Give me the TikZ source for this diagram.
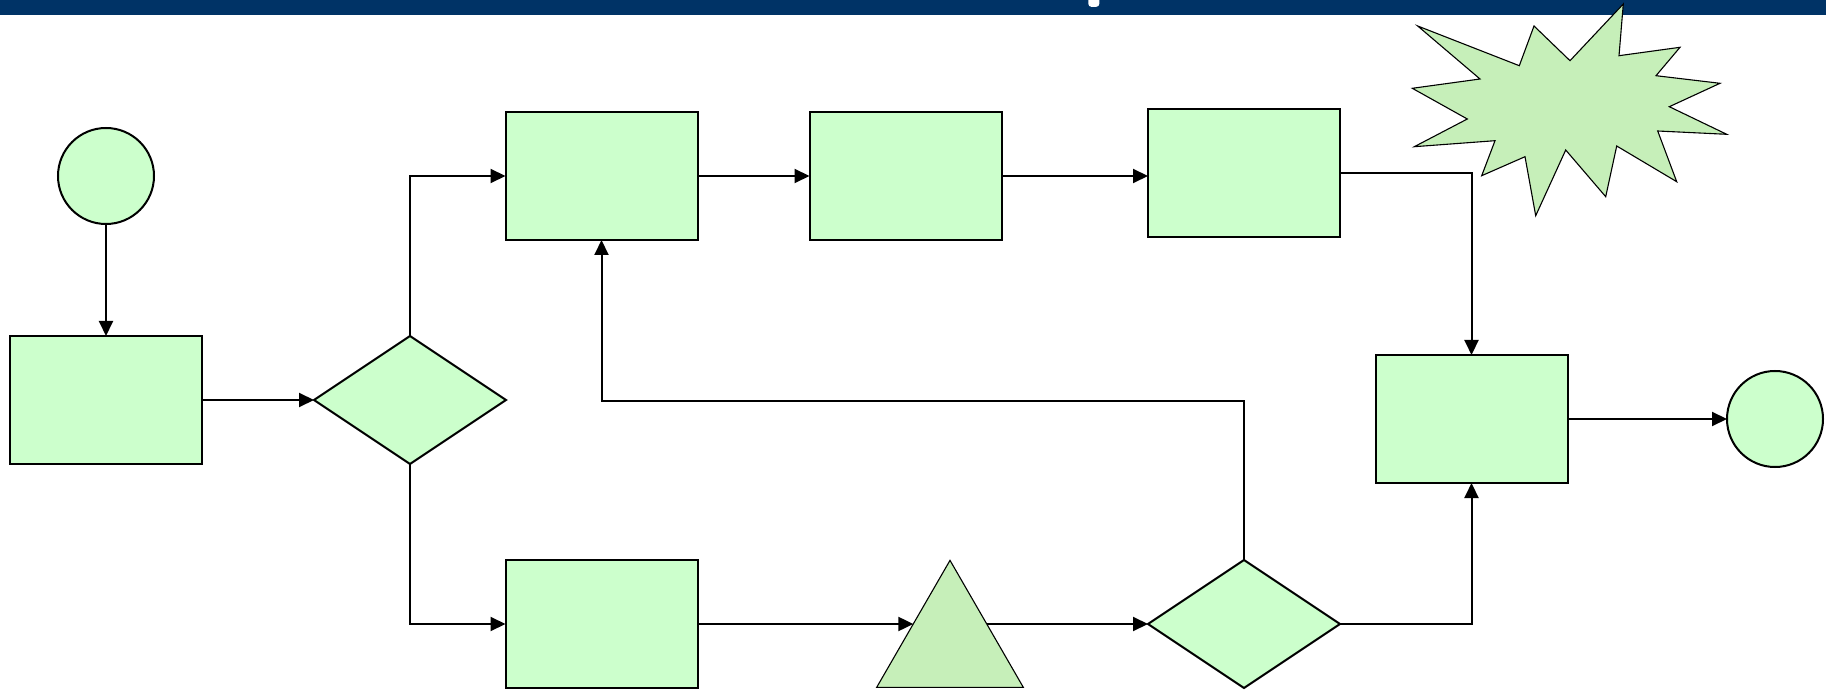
\documentclass[tikz,border=0pt]{standalone}
\usetikzlibrary{shapes.geometric,arrows.meta}
\definecolor{barblue}{HTML}{003366}
\definecolor{boxgreen}{HTML}{CCFFCC}
\definecolor{burstgreen}{HTML}{C6EFB9}
\tikzset{
  box/.style={draw=black, line width=2pt, fill=boxgreen, rectangle,
    minimum width=192pt, minimum height=128pt, inner sep=0pt, outer sep=0pt},
  term/.style={draw=black, line width=2pt, fill=boxgreen, circle,
    minimum size=96pt, inner sep=0pt, outer sep=0pt},
  decision/.style={draw=black, line width=2pt, fill=boxgreen, diamond,
    minimum width=192pt, minimum height=128pt, inner sep=0pt, outer sep=0pt},
  merge/.style={draw=black, line width=1.1pt, fill=burstgreen,
    regular polygon, regular polygon sides=3, minimum size=169.3pt,
    inner sep=0pt, outer sep=0pt},
  flow/.style={draw=black, line width=2pt,
    -{Triangle[length=15pt,width=14pt]}}
}
\begin{document}
\begin{tikzpicture}[x=1pt,y=-1pt]
\useasboundingbox (0,0) rectangle (1826,692);

% header bar
\fill[barblue] (0,0) rectangle (1826,15.5);
\fill[white, rounded corners=3pt] (1088.3,-4) rectangle (1099.3,6.8);

% nodes
\node[term] (start) at (106,176) {};
\node[box] (r1) at (106,400) {};
\node[decision] (d1) at (410,400) {};
\node[box] (A) at (601.5,176) {};
\node[box] (B) at (905.5,176) {};
\node[box] (C) at (1244,173.5) {};
\node[box] (D) at (601.5,624) {};
\node[merge] (tri) at (950,645) {};
\node[decision] (d2) at (1244,624) {};
\node[box] (E) at (1471.5,419) {};
\node[term] (stop) at (1775,419) {};

% starburst
\draw[line width=1.1pt, fill=burstgreen, line join=miter]
  (1417.7,26) -- (1480,79) -- (1412.3,88.3) -- (1467.3,119) -- (1414.3,146.7)
  -- (1495,140.7) -- (1481.7,175.7) -- (1525,156.7) -- (1535.7,215.7)
  -- (1565.7,150) -- (1605.7,196.7) -- (1616.7,146) -- (1676.7,181.7)
  -- (1657.7,131) -- (1726.7,134.3) -- (1669.3,106.7) -- (1720,83.3)
  -- (1656,75.7) -- (1680,47.3) -- (1619,55.7) -- (1623.3,4)
  -- (1570,60.7) -- (1534,26) -- (1519.3,65.7) -- cycle;

% connectors
\coordinate (back) at (1244,400.6);
\draw[flow] (start) -- (r1);
\draw[flow] (r1) -- (d1);
\draw[flow] (d1.north) |- (A.west);
\draw[flow] (d1.south) |- (D.west);
\draw[flow] (A) -- (B);
\draw[flow] (B.east) -- (B.east -| C.west);
\draw[flow] (C.east) -| (E.north);
\draw[flow] (D.east) -- (D.east -| tri.side 1);
\draw[flow] (tri.side 3 |- d2.west) -- (d2.west);
\draw[flow] (d2.north) -- (back) -| (A.south);
\draw[flow] (d2.east) -| (E.south);
\draw[flow] (E) -- (stop);
\end{tikzpicture}
\end{document}
